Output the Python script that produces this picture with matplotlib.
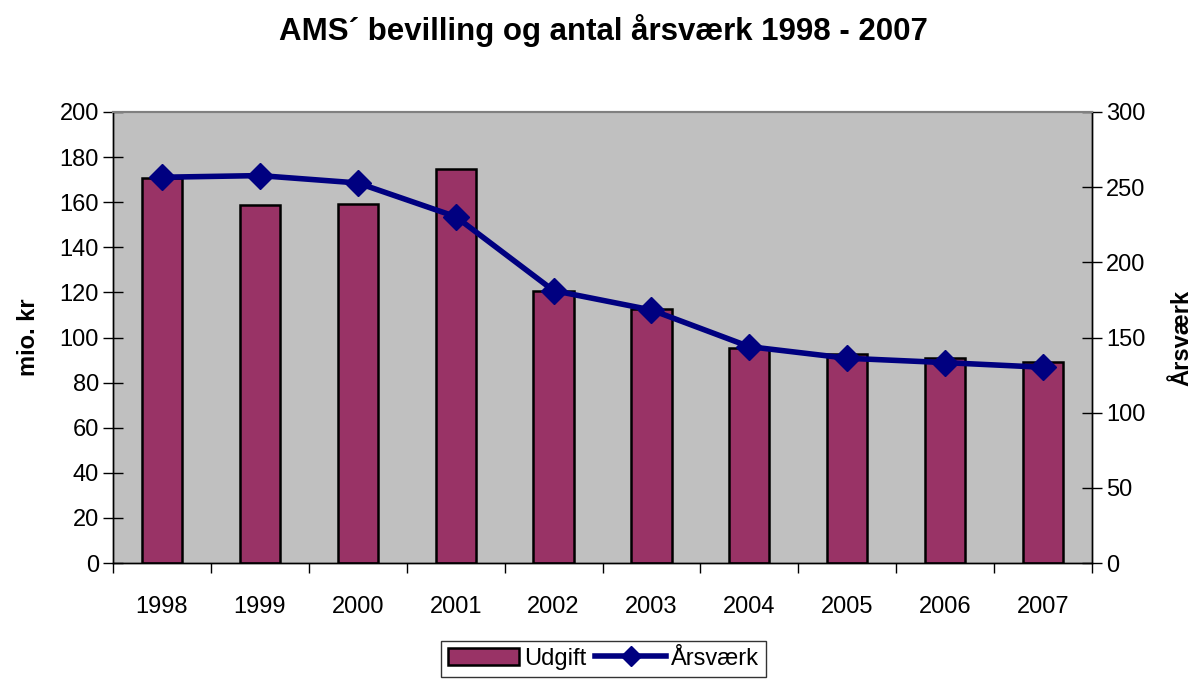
import matplotlib
matplotlib.use('Agg')
import matplotlib.pyplot as plt
import numpy as np

plt.rcParams['font.family'] = ['Liberation Sans', 'DejaVu Sans']

years = ['1998', '1999', '2000', '2001', '2002', '2003', '2004', '2005', '2006', '2007']
udgift = [170.9, 158.6, 159.3, 174.9, 120.5, 112.6, 95.5, 92.7, 90.9, 89.0]
aarsvaerk = [256.6, 257.7, 252.8, 230.4, 181.2, 168.3, 143.9, 136.2, 133.3, 130.2]

fs = 17

fig = plt.figure(figsize=(11.95, 6.79), dpi=100)
fig.patch.set_facecolor('white')
ax = fig.add_axes([113 / 1195, 116 / 679, 979 / 1195, 451 / 679])
ax.set_facecolor('#C0C0C0')

x = np.arange(len(years))
bars = ax.bar(x, udgift, width=0.41, color='#993366', edgecolor='black', linewidth=1.8,
              label='Udgift', zorder=2)
ax.set_xlim(-0.5, len(years) - 0.5)
ax.set_ylim(0, 200)
ax.set_yticks(range(0, 201, 20))
ax.set_xticks(x)
ax.set_xticklabels(years)
ax.set_xticks(np.arange(-0.5, len(years), 1), minor=True)
ax.tick_params(axis='x', which='major', length=0, labelsize=fs, pad=24)
ax.tick_params(axis='x', which='minor', length=7, direction='out', width=1)
ax.tick_params(axis='y', labelsize=fs, direction='inout', length=14, width=1, pad=3)
ax.set_ylabel('mio. kr', fontsize=fs, fontweight='bold', labelpad=14)

ax2 = ax.twinx()
line, = ax2.plot(x, aarsvaerk, color='#000080', linewidth=4, marker='D', markersize=13,
                 label='Årsværk', zorder=3)
ax2.set_ylim(0, 300)
ax2.set_yticks(range(0, 301, 50))
ax2.tick_params(axis='y', labelsize=fs, direction='inout', length=14, width=1, pad=3)
ax2.set_ylabel('Årsværk', fontsize=fs, fontweight='bold', labelpad=18)

for a in (ax, ax2):
    a.spines['top'].set_color('#808080')
    a.spines['top'].set_linewidth(1.5)
    for s in ('left', 'right', 'bottom'):
        a.spines[s].set_color('black')
        a.spines[s].set_linewidth(1)

fig.text(0.505, 0.955, 'AMS´ bevilling og antal årsværk 1998 - 2007', ha='center', va='center',
         fontsize=22.5, fontweight='bold')

leg = fig.legend([bars, line], ['Udgift', 'Årsværk'], loc='center', bbox_to_anchor=(0.505, 0.03),
                 ncol=2, fontsize=fs, frameon=True, fancybox=False, handlelength=3,
                 handletextpad=0.2, columnspacing=0.4, borderpad=0.3, markerscale=0.75)
leg.get_frame().set_edgecolor('black')
leg.get_frame().set_linewidth(1)

fig.savefig('out.png', dpi=100, facecolor='white')
